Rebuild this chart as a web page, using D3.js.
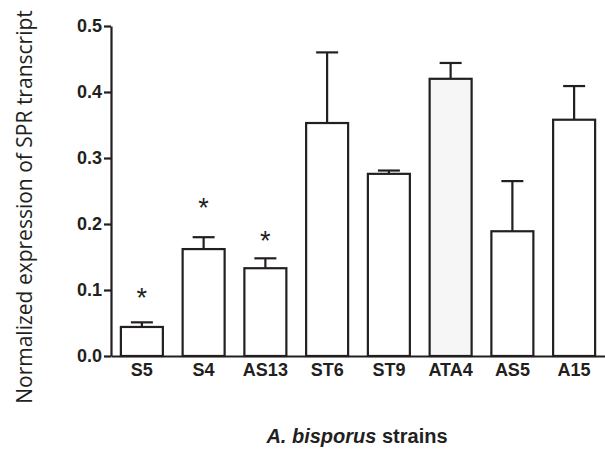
<!DOCTYPE html>
<html>
<head>
<meta charset="utf-8">
<script src="https://cdn.jsdelivr.net/npm/d3@7"></script>
<style>
  body { margin: 0; background: #fff; }
  svg { display: block; }
</style>
</head>
<body>
<div class="chart"></div>
<script>
// strains and values
const strains = ["S5", "S4", "AS13", "ST6", "ST9", "ATA4", "AS5", "A15"];
const means = [0.044, 0.162, 0.133, 0.353, 0.276, 0.420, 0.189, 0.358];
const errors = [0.007, 0.018, 0.015, 0.107, 0.005, 0.024, 0.076, 0.051];
const starred = ["S5", "S4", "AS13"];
const starLevels = [0.095, 0.232, 0.182];
const yTicks = [0.0, 0.1, 0.2, 0.3, 0.4, 0.5];

const width = 605, height = 450;
const margin = { top: 26, right: 0, bottom: 94, left: 111 };
const ink = "#231f20";

const svg = d3.select(".chart").append("svg")
  .attr("width", width)
  .attr("height", height);

//x scale
const x = d3.scaleBand()
  .domain(strains)
  .range([margin.left, width - margin.right])
  .paddingInner(0.32)
  .paddingOuter(0.16);

//y scale
const y = d3.scaleLinear()
  .domain([0, 0.5])
  .range([height - margin.bottom, margin.top]);

//bars
svg.append("g")
  .selectAll("rect")
  .data(strains)
  .join("rect")
  .attr("x", d => x(d))
  .attr("y", (d, i) => y(means[i]))
  .attr("width", x.bandwidth())
  .attr("height", (d, i) => y(0) - y(means[i]))
  .attr("fill", d => d === "ATA4" ? "#f6f6f6" : "#fff")
  .attr("stroke", ink)
  .attr("stroke-width", 2.2);

//error bars (upper only)
const err = svg.append("g")
  .attr("stroke", ink)
  .attr("stroke-width", 2.2);
strains.forEach((s, i) => {
  const cx = x(s) + x.bandwidth() / 2;
  err.append("line")
    .attr("x1", cx).attr("x2", cx)
    .attr("y1", y(means[i])).attr("y2", y(means[i] + errors[i]));
  err.append("line")
    .attr("x1", cx - 11).attr("x2", cx + 11)
    .attr("y1", y(means[i] + errors[i])).attr("y2", y(means[i] + errors[i]));
});

//significance stars
svg.append("g")
  .selectAll("text")
  .data(starred)
  .join("text")
  .attr("x", d => x(d) + x.bandwidth() / 2)
  .attr("y", (d, i) => y(starLevels[i]) + 14)
  .attr("text-anchor", "middle")
  .attr("font-family", "Liberation Sans, Arial, sans-serif")
  .attr("font-size", 27)
  .attr("fill", ink)
  .text("*");

//y axis
svg.append("g")
  .attr("transform", `translate(${margin.left},0)`)
  .call(d3.axisLeft(y).tickValues(yTicks).tickFormat(d3.format(".1f")).tickSizeOuter(0).tickSizeInner(7).tickPadding(2))
  .call(g => g.selectAll("line, path").attr("stroke", ink).attr("stroke-width", 2.2))
  .call(g => g.selectAll("text")
    .attr("font-family", "Liberation Sans, Arial, sans-serif")
    .attr("font-weight", "bold")
    .attr("font-size", 18)
    .attr("fill", ink));

//x axis (no ticks)
svg.append("g")
  .attr("transform", `translate(0,${y(0)})`)
  .call(d3.axisBottom(x).tickSize(0).tickPadding(7))
  .call(g => g.select(".domain").attr("stroke", ink).attr("stroke-width", 2.2))
  .call(g => g.selectAll("text")
    .attr("font-family", "Liberation Sans, Arial, sans-serif")
    .attr("font-weight", "bold")
    .attr("font-size", 18)
    .attr("fill", ink));

//x title
const xt = svg.append("text")
  .attr("x", 357)
  .attr("y", 443)
  .attr("text-anchor", "middle")
  .attr("font-family", "Liberation Sans, Arial, sans-serif")
  .attr("font-weight", "bold")
  .attr("font-size", 20)
  .attr("fill", ink);
xt.append("tspan").attr("font-style", "italic").text("A. bisporus");
xt.append("tspan").text(" strains");

//y title
svg.append("text")
  .attr("transform", "rotate(-90)")
  .attr("x", -207)
  .attr("y", 32)
  .attr("text-anchor", "middle")
  .attr("font-family", "Open Sans, sans-serif")
  .attr("font-size", 21)
  .attr("fill", ink)
  .text("Normalized expression of SPR transcript");
</script>
</body>
</html>
